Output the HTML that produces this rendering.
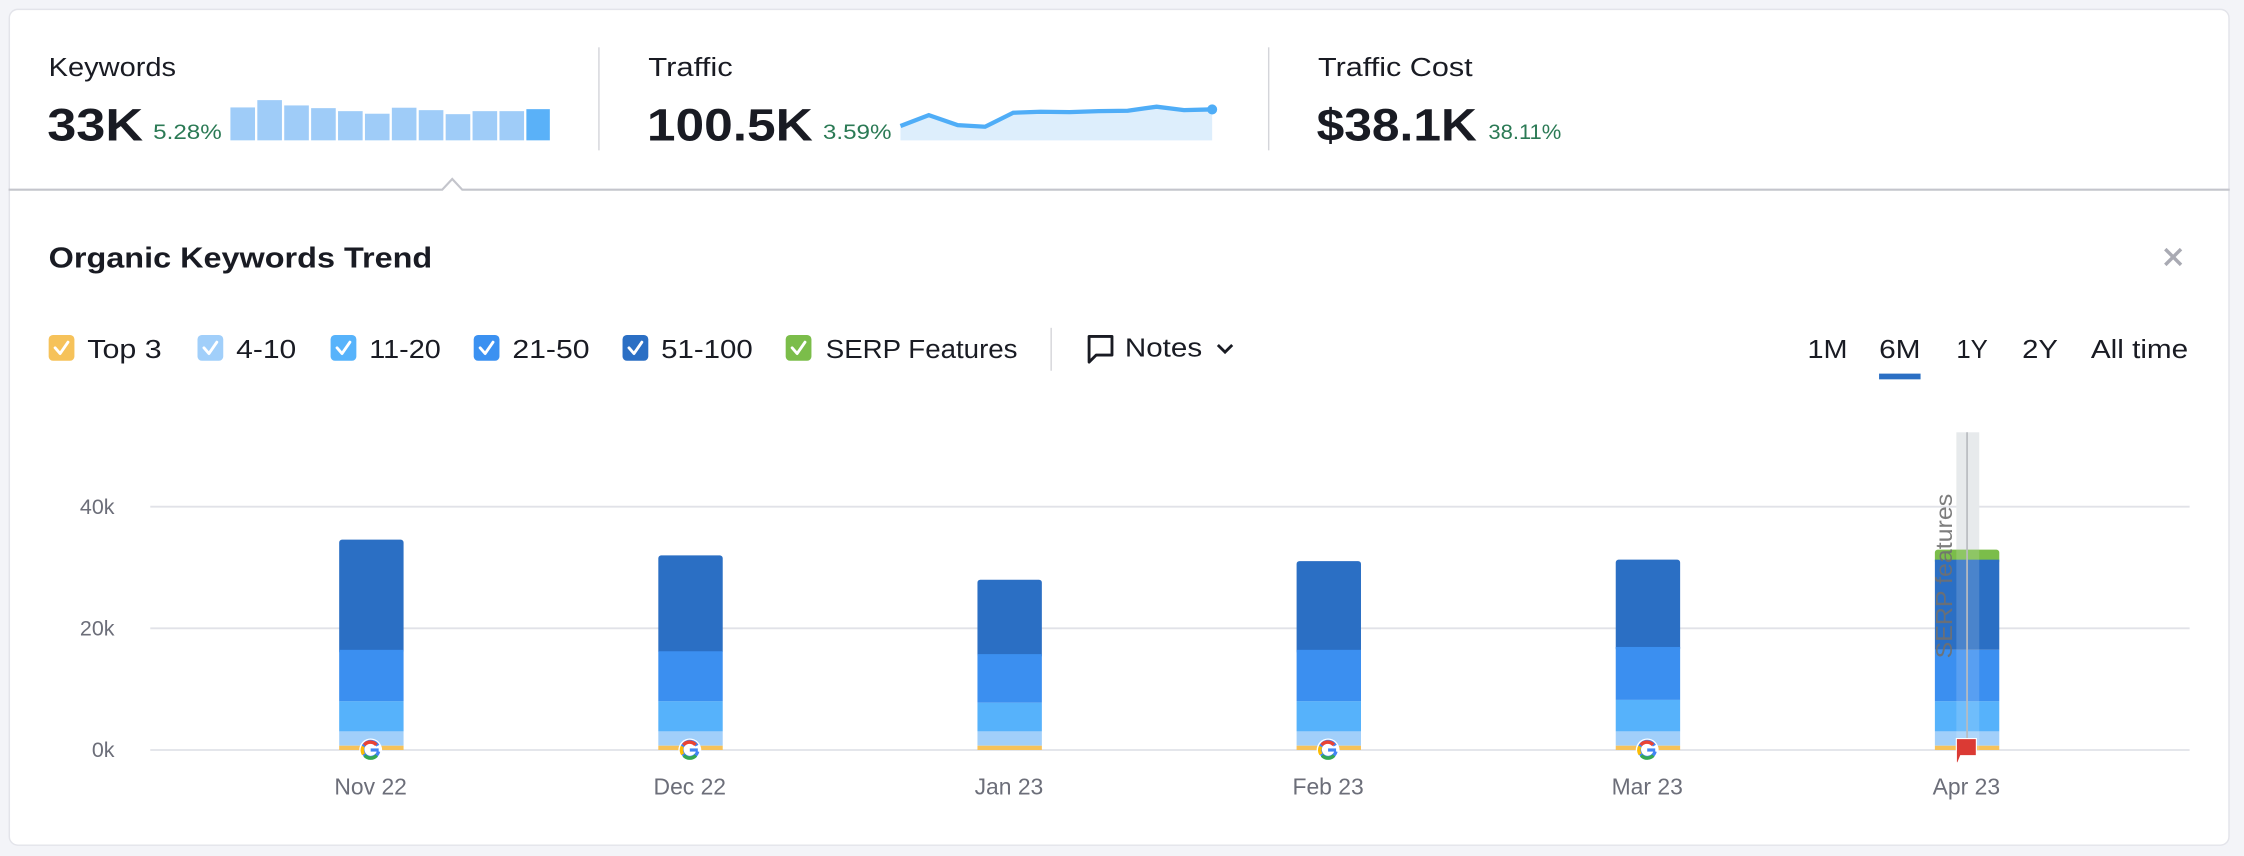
<!DOCTYPE html>
<html><head><meta charset="utf-8"><style>
html,body{margin:0;padding:0;background:#f3f4f8;}
svg{display:block;font-family:"Liberation Sans",Arial,sans-serif;}
</style></head><body>
<svg width="2244" height="856" viewBox="0 0 1568 598" xmlns="http://www.w3.org/2000/svg">
<rect x="0" y="0" width="1568" height="598" fill="#f3f4f8"/>
<rect x="6.5" y="6.5" width="1551" height="584" rx="6" fill="#fff" stroke="#e3e4ea"/>
<g fill="#191b23" lengthAdjust="spacingAndGlyphs">
<text x="34" y="53" font-size="18" textLength="89" lengthAdjust="spacingAndGlyphs">Keywords</text>
<text x="33" y="98" font-size="32" font-weight="bold" textLength="67" lengthAdjust="spacingAndGlyphs">33K</text>
<text x="453" y="53" font-size="18" textLength="59" lengthAdjust="spacingAndGlyphs">Traffic</text>
<text x="452" y="98" font-size="32" font-weight="bold" textLength="116" lengthAdjust="spacingAndGlyphs">100.5K</text>
<text x="921" y="53" font-size="18" textLength="108" lengthAdjust="spacingAndGlyphs">Traffic Cost</text>
<text x="920" y="98" font-size="32" font-weight="bold" textLength="112" lengthAdjust="spacingAndGlyphs">$38.1K</text>
</g>
<g fill="#2b7a55" font-size="15">
<text x="107" y="97" textLength="48" lengthAdjust="spacingAndGlyphs">5.28%</text>
<text x="575" y="97" textLength="48" lengthAdjust="spacingAndGlyphs">3.59%</text>
<text x="1040" y="97" textLength="51" lengthAdjust="spacingAndGlyphs">38.11%</text>
</g>
<g fill="#9fccf8">
<rect x="161" y="75" width="17.2" height="23"/>
<rect x="179.8" y="69.9" width="17.2" height="28.1"/>
<rect x="198.6" y="73.6" width="17.2" height="24.4"/>
<rect x="217.4" y="75.5" width="17.2" height="22.5"/>
<rect x="236.2" y="77.6" width="17.2" height="20.4"/>
<rect x="255" y="79.4" width="17.2" height="18.6"/>
<rect x="273.8" y="75.2" width="17.2" height="22.8"/>
<rect x="292.6" y="76.9" width="17.2" height="21.1"/>
<rect x="311.4" y="79.7" width="17.2" height="18.3"/>
<rect x="330.2" y="77.6" width="17.2" height="20.4"/>
<rect x="349" y="77.6" width="17.2" height="20.4"/>
<rect x="367.8" y="76.2" width="16.4" height="21.8" fill="#5ab1f8"/>
</g>
<path d="M629.2,88 L649,80.4 L669.2,87.4 L688.3,88.5 L708,78.7 L727.1,78 L747.4,78.3 L767.7,77.6 L788,77.3 L808.2,74.5 L827.3,76.9 L847,76.4 L847,98 L629.2,98Z" fill="#ddeefc"/>
<path d="M629.2,88 L649,80.4 L669.2,87.4 L688.3,88.5 L708,78.7 L727.1,78 L747.4,78.3 L767.7,77.6 L788,77.3 L808.2,74.5 L827.3,76.9 L846,76.4" fill="none" stroke="#4fadf7" stroke-width="3"/>
<circle cx="847" cy="76.4" r="3.5" fill="#4fadf7"/>
<line x1="418.5" y1="33" x2="418.5" y2="105" stroke="#d4d5da"/>
<line x1="886.5" y1="33" x2="886.5" y2="105" stroke="#d4d5da"/>
<path d="M6,132.5 L309,132.5 L316,125 L323,132.5 L1558,132.5" fill="#fff" stroke="#c4c5cc" stroke-width="1.5"/>
<text x="34" y="187" font-size="20" font-weight="bold" fill="#191b23" textLength="268" lengthAdjust="spacingAndGlyphs">Organic Keywords Trend</text>
<path d="M1513,174 L1524,185 M1524,174 L1513,185" stroke="#a9aab3" stroke-width="2.4"/>
<g font-size="18" fill="#191b23">
<rect x="34" y="234" width="18" height="18" rx="3" fill="#f6c25a"/><text x="61" y="250" textLength="52" lengthAdjust="spacingAndGlyphs">Top 3</text>
<rect x="138" y="234" width="18" height="18" rx="3" fill="#a1cffa"/><text x="165" y="250" textLength="42" lengthAdjust="spacingAndGlyphs">4-10</text>
<rect x="231" y="234" width="18" height="18" rx="3" fill="#57b3fb"/><text x="258" y="250" textLength="50" lengthAdjust="spacingAndGlyphs">11-20</text>
<rect x="331" y="234" width="18" height="18" rx="3" fill="#3b91f1"/><text x="358" y="250" textLength="54" lengthAdjust="spacingAndGlyphs">21-50</text>
<rect x="435" y="234" width="18" height="18" rx="3" fill="#2b6fc4"/><text x="462" y="250" textLength="64" lengthAdjust="spacingAndGlyphs">51-100</text>
<rect x="549" y="234" width="18" height="18" rx="3" fill="#7bbd4a"/><text x="577" y="250" textLength="134" lengthAdjust="spacingAndGlyphs">SERP Features</text>
<text x="786" y="249" textLength="54" lengthAdjust="spacingAndGlyphs">Notes</text>
<text x="1263" y="250" textLength="28" lengthAdjust="spacingAndGlyphs">1M</text>
<text x="1313" y="250" textLength="29" lengthAdjust="spacingAndGlyphs">6M</text>
<text x="1367" y="250" textLength="22" lengthAdjust="spacingAndGlyphs">1Y</text>
<text x="1413" y="250" textLength="25" lengthAdjust="spacingAndGlyphs">2Y</text>
<text x="1461" y="250" textLength="68" lengthAdjust="spacingAndGlyphs">All time</text>
</g>
<g fill="none" stroke="#fff" stroke-width="2" stroke-linecap="round" stroke-linejoin="round">
<path d="M38.5,243 L42,247 L47.5,239"/><path d="M142.5,243 L146,247 L151.5,239"/><path d="M235.5,243 L239,247 L244.5,239"/><path d="M335.5,243 L339,247 L344.5,239"/><path d="M439.5,243 L443,247 L448.5,239"/><path d="M553.5,243 L557,247 L562.5,239"/>
</g>
<line x1="734.5" y1="229" x2="734.5" y2="259" stroke="#d4d5da"/>
<path d="M761,235 L777,235 L777,248 L766,248 L761,253 Z" fill="none" stroke="#191b23" stroke-width="2" stroke-linejoin="round"/>
<path d="M851,241 L856,246 L861,241" fill="none" stroke="#191b23" stroke-width="2"/>
<rect x="1313" y="261" width="29" height="4" fill="#2b6fc4"/>
<g stroke="#e1e2e8" stroke-width="1.3">
<line x1="105" y1="354" x2="1530" y2="354"/>
<line x1="105" y1="439" x2="1530" y2="439"/>
<line x1="105" y1="524" x2="1530" y2="524"/>
</g>
<g font-size="15" fill="#6c6e79" text-anchor="end">
<text x="80" y="359">40k</text><text x="80" y="444">20k</text><text x="80" y="529">0k</text>
</g>
<g>
<rect x="1367" y="302" width="16" height="222" fill="#e7eaec"/>
<rect x="237" y="377" width="45" height="80" rx="2" fill="#2b6fc4"/><rect x="237" y="454" width="45" height="36" fill="#3b8ff0"/><rect x="237" y="490" width="45" height="21" fill="#56b2fb"/><rect x="237" y="511" width="45" height="10" fill="#a1cffa"/><rect x="237" y="521" width="45" height="3" fill="#f6c25a"/>
<rect x="460" y="388" width="45" height="69" rx="2" fill="#2b6fc4"/><rect x="460" y="455" width="45" height="35" fill="#3b8ff0"/><rect x="460" y="490" width="45" height="21" fill="#56b2fb"/><rect x="460" y="511" width="45" height="10" fill="#a1cffa"/><rect x="460" y="521" width="45" height="3" fill="#f6c25a"/>
<rect x="683" y="405" width="45" height="55" rx="2" fill="#2b6fc4"/><rect x="683" y="457" width="45" height="34" fill="#3b8ff0"/><rect x="683" y="491" width="45" height="20" fill="#56b2fb"/><rect x="683" y="511" width="45" height="10" fill="#a1cffa"/><rect x="683" y="521" width="45" height="3" fill="#f6c25a"/>
<rect x="906" y="392" width="45" height="65" rx="2" fill="#2b6fc4"/><rect x="906" y="454" width="45" height="36" fill="#3b8ff0"/><rect x="906" y="490" width="45" height="21" fill="#56b2fb"/><rect x="906" y="511" width="45" height="10" fill="#a1cffa"/><rect x="906" y="521" width="45" height="3" fill="#f6c25a"/>
<rect x="1129" y="391" width="45" height="64" rx="2" fill="#2b6fc4"/><rect x="1129" y="452" width="45" height="37" fill="#3b8ff0"/><rect x="1129" y="489" width="45" height="22" fill="#56b2fb"/><rect x="1129" y="511" width="45" height="10" fill="#a1cffa"/><rect x="1129" y="521" width="45" height="3" fill="#f6c25a"/>
<rect x="1352" y="384" width="45" height="10" rx="2" fill="#7bbd4a"/><rect x="1352" y="391" width="45" height="63" fill="#2b6fc4"/><rect x="1352" y="454" width="45" height="36" fill="#3b8ff0"/><rect x="1352" y="490" width="45" height="21" fill="#56b2fb"/><rect x="1352" y="511" width="45" height="10" fill="#a1cffa"/><rect x="1352" y="521" width="45" height="3" fill="#f6c25a"/>
<rect x="1367" y="384" width="16" height="140" fill="#ffffff" opacity="0.15"/>
<line x1="1374.5" y1="302" x2="1374.5" y2="524" stroke="#b9bcc0" stroke-width="1.2"/>
<text transform="translate(1364,460) rotate(-90)" font-size="16" fill="#707070" opacity="0.9" textLength="115" lengthAdjust="spacingAndGlyphs">SERP features</text>
<path d="M1367,516 L1381,516 L1381,528 L1370,528 L1368,533 L1367,533 Z" fill="#db3a34" stroke="#fff" stroke-width="0.8"/>
</g>
<g>
<g transform="translate(259,524)"><circle r="8" fill="#fff"/><path d="M5,-3 A5.6,5.6 0 1 0 5.5,1" fill="none" stroke="#4285f4" stroke-width="2.4"/><path d="M-4.5,-3.5 A5.6,5.6 0 0 1 4,-3.6" fill="none" stroke="#ea4335" stroke-width="2.4"/><path d="M-5,3 A5.6,5.6 0 0 1 -5.2,-2.5" fill="none" stroke="#fbbc05" stroke-width="2.4"/><path d="M-4.2,3.8 A5.6,5.6 0 0 0 4.2,3.8" fill="none" stroke="#34a853" stroke-width="2.4"/><path d="M0,0 L5.6,0" stroke="#4285f4" stroke-width="2.2"/></g>
<g transform="translate(482,524)"><circle r="8" fill="#fff"/><path d="M5,-3 A5.6,5.6 0 1 0 5.5,1" fill="none" stroke="#4285f4" stroke-width="2.4"/><path d="M-4.5,-3.5 A5.6,5.6 0 0 1 4,-3.6" fill="none" stroke="#ea4335" stroke-width="2.4"/><path d="M-5,3 A5.6,5.6 0 0 1 -5.2,-2.5" fill="none" stroke="#fbbc05" stroke-width="2.4"/><path d="M-4.2,3.8 A5.6,5.6 0 0 0 4.2,3.8" fill="none" stroke="#34a853" stroke-width="2.4"/><path d="M0,0 L5.6,0" stroke="#4285f4" stroke-width="2.2"/></g>
<g transform="translate(928,524)"><circle r="8" fill="#fff"/><path d="M5,-3 A5.6,5.6 0 1 0 5.5,1" fill="none" stroke="#4285f4" stroke-width="2.4"/><path d="M-4.5,-3.5 A5.6,5.6 0 0 1 4,-3.6" fill="none" stroke="#ea4335" stroke-width="2.4"/><path d="M-5,3 A5.6,5.6 0 0 1 -5.2,-2.5" fill="none" stroke="#fbbc05" stroke-width="2.4"/><path d="M-4.2,3.8 A5.6,5.6 0 0 0 4.2,3.8" fill="none" stroke="#34a853" stroke-width="2.4"/><path d="M0,0 L5.6,0" stroke="#4285f4" stroke-width="2.2"/></g>
<g transform="translate(1151,524)"><circle r="8" fill="#fff"/><path d="M5,-3 A5.6,5.6 0 1 0 5.5,1" fill="none" stroke="#4285f4" stroke-width="2.4"/><path d="M-4.5,-3.5 A5.6,5.6 0 0 1 4,-3.6" fill="none" stroke="#ea4335" stroke-width="2.4"/><path d="M-5,3 A5.6,5.6 0 0 1 -5.2,-2.5" fill="none" stroke="#fbbc05" stroke-width="2.4"/><path d="M-4.2,3.8 A5.6,5.6 0 0 0 4.2,3.8" fill="none" stroke="#34a853" stroke-width="2.4"/><path d="M0,0 L5.6,0" stroke="#4285f4" stroke-width="2.2"/></g>
</g>
<g font-size="16" fill="#6c6e79" text-anchor="middle">
<text x="259" y="555">Nov 22</text><text x="482" y="555">Dec 22</text><text x="705" y="555">Jan 23</text><text x="928" y="555">Feb 23</text><text x="1151" y="555">Mar 23</text><text x="1374" y="555">Apr 23</text>
</g>
</svg>
</body></html>
